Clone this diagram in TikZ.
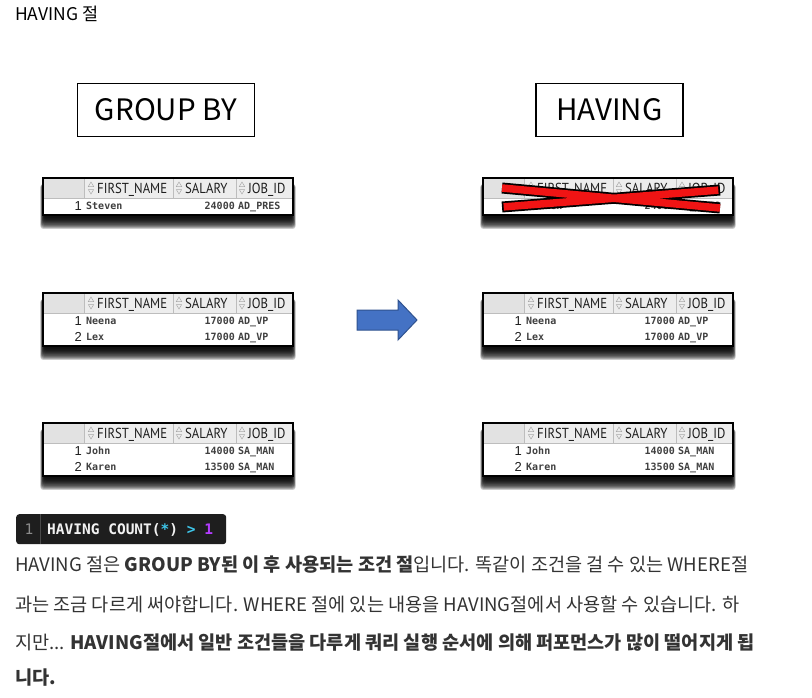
\documentclass[tikz,border=0pt]{standalone}
\usepackage{fontspec}
\setmainfont{Noto Sans CJK KR}
\newfontfamily\kr{Noto Sans CJK KR}
\newfontfamily\hdr[FakeStretch=0.88]{PT Sans}
\newfontfamily\numfont{Liberation Sans}
\newfontfamily\dmono{DejaVu Sans Mono}
\definecolor{hdrgray}{HTML}{EDEDED}
\definecolor{hdrdark}{HTML}{E2E2E2}
\definecolor{sepgray}{HTML}{BDBDBD}
\definecolor{icongray}{HTML}{A8A8A8}
\definecolor{txtdark}{HTML}{1E1E1E}
\definecolor{paratxt}{HTML}{333333}
\definecolor{codebg}{HTML}{1E1E1E}
\definecolor{codesep}{HTML}{4A4A4A}
\definecolor{codenum}{HTML}{8C8C8C}
\definecolor{codewhite}{HTML}{F2F2F2}
\definecolor{codecyan}{HTML}{3EC6EA}
\definecolor{codepurple}{HTML}{B23CFD}
\definecolor{arrowfill}{HTML}{4472C4}
\definecolor{arrowline}{HTML}{2F528F}
\definecolor{xred}{HTML}{F01414}
\tikzset{
  titlebox/.style={draw=black,line width=1.8pt,inner sep=0pt,font=\kr\fontsize{29.5}{31}\selectfont,text=black},
  hdrtext/.style={anchor=base west,inner sep=0pt,font=\hdr\fontsize{14.5}{16}\selectfont,text=txtdark},
  numtext/.style={anchor=base east,inner sep=0pt,font=\numfont\fontsize{13}{15}\selectfont,text=txtdark},
  celltext/.style={anchor=base west,inner sep=0pt,font=\dmono\bfseries\fontsize{10}{12}\selectfont,text=txtdark!85},
  cellnum/.style={anchor=base east,inner sep=0pt,font=\dmono\bfseries\fontsize{10}{12}\selectfont,text=txtdark!85},
  paraline/.style={anchor=base west,inner sep=0pt,font=\kr\fontsize{18.6}{21}\selectfont,text=paratxt},
}
\newcommand\sorticon[1]{%
  \draw[icongray,line width=0.5pt] (#1,4) -- (#1+2.7,8.5) -- (#1-2.7,8.5) -- cycle;
  \draw[icongray,line width=0.5pt] (#1,16) -- (#1+2.7,11.5) -- (#1-2.7,11.5) -- cycle;}
\newcommand\tabrow[6]{% name, index, num, first, salary, job
  \node[numtext] (#1-n#2) at (39,{20+16*(#2-1)+12.8}) {#3};
  \node[celltext] (#1-f#2) at (43,{20+16*(#2-1)+11.8}) {#4};
  \node[cellnum] (#1-s#2) at (192,{20+16*(#2-1)+11.8}) {#5};
  \node[celltext] (#1-j#2) at (195,{20+16*(#2-1)+11.8}) {#6};}
\newcommand\sqltab[5]{% name, x, y, nrows, rows
  \begin{scope}[shift={(#2,#3)}]
    \pgfmathsetmacro\tabH{21+16*#4}
    \foreach \i in {1,...,12}{
      \fill[black,opacity=0.2,rounded corners=3pt] (-3+0.35*\i,6) rectangle (253-0.35*\i,\tabH+15-1.05*\i);}
    \fill[white] (0,0) rectangle (250,\tabH);
    \fill[hdrgray] (0,0) rectangle (250,20);
    \fill[hdrdark] (0,0) rectangle (41,20);
    \draw[sepgray,line width=0.6pt] (41,0) -- (41,20) (130,0) -- (130,20) (193,0) -- (193,20) (0,20) -- (250,20);
    \sorticon{48}\sorticon{136}\sorticon{199}
    \node[hdrtext] (#1-h1) at (54,15) {FIRST\_NAME};
    \node[hdrtext] (#1-h2) at (142,15) {SALARY};
    \node[hdrtext] (#1-h3) at (205,15) {JOB\_ID};
    #5
    \draw[black,line width=1.5pt] (0,0) rectangle (250,\tabH);
  \end{scope}}
\begin{document}
\begin{tikzpicture}[x=1pt,y=-1pt]
\useasboundingbox (0,0) rectangle (812,697);
\fill[white] (0,0) rectangle (812,697);

\node[anchor=base west,inner sep=0pt,font=\kr\fontsize{17.5}{19}\selectfont,text=black] (title) at (15,20) {HAVING 절};

\node[titlebox,minimum width=177pt,minimum height=53pt] (gb) at (166,110) {GROUP BY};
\node[titlebox,minimum width=147pt,minimum height=53pt] (hv) at (609.5,110) {HAVING};

% left tables
\sqltab{L1}{43}{178}{1}{\tabrow{L1}{1}{1}{Steven}{24000}{AD\_PRES}}
\sqltab{L2}{43}{293}{2}{\tabrow{L2}{1}{1}{Neena}{17000}{AD\_VP}\tabrow{L2}{2}{2}{Lex}{17000}{AD\_VP}}
\sqltab{L3}{43}{423}{2}{\tabrow{L3}{1}{1}{John}{14000}{SA\_MAN}\tabrow{L3}{2}{2}{Karen}{13500}{SA\_MAN}}
% right tables
\sqltab{R1}{483}{178}{1}{\tabrow{R1}{1}{1}{Steven}{24000}{AD\_PRES}}
\sqltab{R2}{483}{293}{2}{\tabrow{R2}{1}{1}{Neena}{17000}{AD\_VP}\tabrow{R2}{2}{2}{Lex}{17000}{AD\_VP}}
\sqltab{R3}{483}{423}{2}{\tabrow{R3}{1}{1}{John}{14000}{SA\_MAN}\tabrow{R3}{2}{2}{Karen}{13500}{SA\_MAN}}

% red cross
\coordinate (xa1) at (502,188);
\coordinate (xa2) at (720,208);
\coordinate (xb1) at (502,207);
\coordinate (xb2) at (720,190);
\draw[black,line width=11pt] (xa1) -- (xa2) (xb1) -- (xb2);
\draw[xred,line width=7.5pt,shorten <=1.7pt,shorten >=1.7pt] (xa1) -- (xa2) (xb1) -- (xb2);

% blue arrow
\draw[arrowline,fill=arrowfill,line width=1pt,line join=miter] (357,310) -- (398,310) -- (398,300) -- (417,320) -- (398,340) -- (398,330) -- (357,330) -- cycle;

% code block
\node[fill=codebg,rounded corners=3pt,minimum width=210pt,minimum height=30pt,inner sep=0pt,anchor=north west] (code) at (16,514) {};
\draw[codesep,line width=1pt] (40,514) -- (40,544);
\node[anchor=base,inner sep=0pt,font=\dmono\fontsize{14.5}{16}\selectfont,text=codenum] (codeno) at (29,534) {1};
\node[anchor=base west,inner sep=0pt,font=\dmono\bfseries\fontsize{14.5}{16}\selectfont,text=codewhite] (codetxt) at (47,534) {HAVING COUNT(\textcolor{codecyan}{*}) \textcolor{codecyan}{>} \textcolor{codepurple}{1}};

% paragraph
\node[paraline] (p1) at (15,571) {HAVING 절은 \textbf{GROUP BY된 이 후 사용되는 조건 절}입니다. 똑같이 조건을 걸 수 있는 WHERE절};
\node[paraline] (p2) at (15,611) {과는 조금 다르게 써야합니다. WHERE 절에 있는 내용을 HAVING절에서 사용할 수 있습니다. 하};
\node[paraline] (p3) at (15,649) {지만... \textbf{HAVING절에서 일반 조건들을 다루게 쿼리 실행 순서에 의해 퍼포먼스가 많이 떨어지게 됩}};
\node[paraline] (p4) at (15,684) {\textbf{니다.}};
\end{tikzpicture}
\end{document}
